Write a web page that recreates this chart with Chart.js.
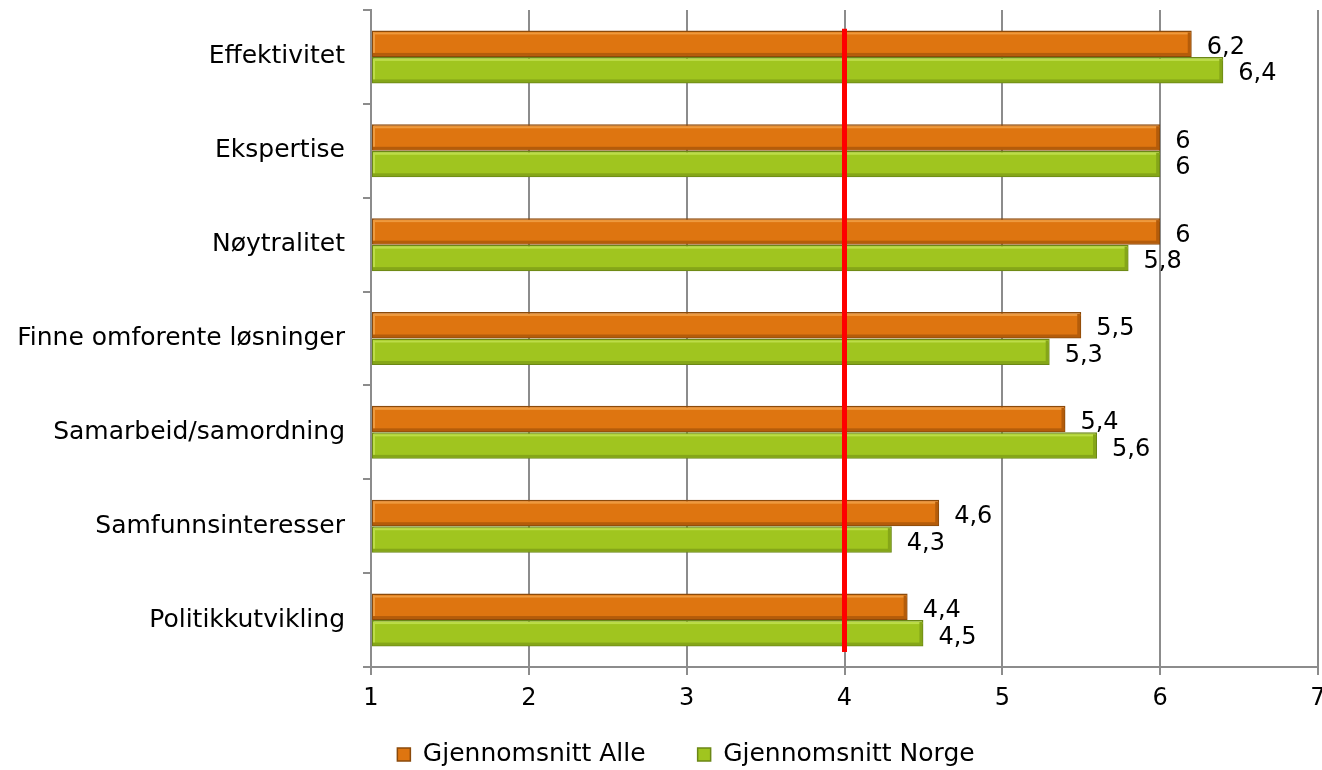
<!DOCTYPE html>
<html>
<head>
<meta charset="utf-8">
<script src="https://cdn.jsdelivr.net/npm/chart.js@4/dist/chart.umd.min.js"></script>
<style>
  html, body { margin: 0; padding: 0; background: #ffffff; }
  #wrap { width: 1322px; height: 770px; }
</style>
</head>
<body>
<div id="wrap"><canvas id="chart" width="1322" height="770"></canvas></div>
<script>
// Categories (top to bottom) and the two series of averages
const categories = [
  'Effektivitet',
  'Ekspertise',
  'Nøytralitet',
  'Finne omforente løsninger',
  'Samarbeid/samordning',
  'Samfunnsinteresser',
  'Politikkutvikling'
];
const seriesNames = ['Gjennomsnitt Alle', 'Gjennomsnitt Norge'];
const avgAlle  = [6.2, 6.0, 6.0, 5.5, 5.4, 4.6, 4.4];
const avgNorge = [6.4, 6.0, 5.8, 5.3, 5.6, 4.3, 4.5];
// Scale 1–7 and the reference level marked by the red line
const xTicks = [1, 2, 3, 4, 5, 6, 7];
const referenceValue = 4;

const FONT = "'DejaVu Sans', sans-serif";
const palette = [
  { fill: '#de7510', border: '#8a4a0b', light: '#ee9a3e', dark: '#b45c0a' },
  { fill: '#a0c51f', border: '#6b8716', light: '#bcdc48', dark: '#85a618' }
];

function fmt(v) {
  return String(v).replace('.', ',');
}

// Bevel highlights on each bar to give the raised look
const bevelPlugin = {
  id: 'bevel',
  afterDatasetsDraw(chart) {
    const ctx = chart.ctx;
    const area = chart.chartArea;
    chart.data.datasets.forEach((ds, di) => {
      const meta = chart.getDatasetMeta(di);
      const c = palette[di];
      meta.data.forEach(bar => {
        const top = bar.y - bar.height / 2;
        const bottom = bar.y + bar.height / 2;
        const left = Math.max(area.left, Math.min(bar.base, bar.x));
        const right = Math.max(bar.base, bar.x);
        ctx.save();
        ctx.fillStyle = c.light;
        ctx.fillRect(left + 1, top + 2, right - left - 2, 2);
        ctx.fillRect(left + 1, top + 2, 2, bottom - top - 4);
        ctx.fillStyle = c.dark;
        ctx.fillRect(left + 1, bottom - 4, right - left - 2, 3);
        ctx.fillRect(right - 4, top + 2, 3, bottom - top - 4);
        ctx.restore();
      });
    });
  }
};

// Value labels to the right of each bar end
const valueLabelPlugin = {
  id: 'valueLabels',
  afterDatasetsDraw(chart) {
    const ctx = chart.ctx;
    ctx.save();
    ctx.font = '24px ' + FONT;
    ctx.fillStyle = '#000000';
    ctx.textAlign = 'left';
    ctx.textBaseline = 'middle';
    chart.data.datasets.forEach((ds, di) => {
      const meta = chart.getDatasetMeta(di);
      meta.data.forEach((bar, i) => {
        ctx.fillText(fmt(ds.data[i]), bar.x + 15, bar.y + 4);
      });
    });
    ctx.restore();
  }
};

// Red reference line at the chosen scale value
const referenceLinePlugin = {
  id: 'referenceLine',
  afterDatasetsDraw(chart) {
    const xs = chart.scales.x;
    const ys = chart.scales.y;
    const band = ys.getPixelForValue(1) - ys.getPixelForValue(0);
    const x = xs.getPixelForValue(referenceValue);
    const y0 = ys.getPixelForValue(0) - 0.3 * band;
    const y1 = ys.getPixelForValue(categories.length - 1) + 0.34 * band;
    const ctx = chart.ctx;
    ctx.save();
    ctx.strokeStyle = '#ff0000';
    ctx.lineWidth = 5;
    ctx.beginPath();
    ctx.moveTo(x, y0);
    ctx.lineTo(x, y1);
    ctx.stroke();
    ctx.restore();
  }
};

// Keep the bottom legend compact and place it under the axis labels
const LEGEND_HEIGHT = 46;
const LEGEND_FONT = 25;
const legendPlacePlugin = {
  id: 'legendPlace',
  beforeLayout(chart) {
    const lg = chart.legend;
    if (lg && !lg._compactFit) {
      const fit = lg.fit;
      lg.fit = function () {
        fit.call(this);
        this.height = LEGEND_HEIGHT;
      };
      lg._compactFit = true;
    }
  },
  afterLayout(chart) {
    const lg = chart.legend;
    if (!lg) return;
    const pad = lg.options.labels.padding;
    const itemH = Math.max(lg.options.labels.boxHeight, LEGEND_FONT * 1.2);
    const textCenter = 757;
    const dx = 27;
    lg.top = textCenter - itemH / 2 - pad;
    lg.bottom = chart.height;
    lg.height = lg.bottom - lg.top;
    lg.left += dx;
    lg.right += dx;
  }
};

new Chart(document.getElementById('chart'), {
  type: 'bar',
  data: {
    labels: categories,
    datasets: [
      {
        label: seriesNames[0],
        data: avgAlle,
        base: xTicks[0],
        backgroundColor: palette[0].fill,
        borderColor: palette[0].border,
        borderWidth: 1.5,
        borderSkipped: false,
        categoryPercentage: 0.565,
        barPercentage: 1.0
      },
      {
        label: seriesNames[1],
        data: avgNorge,
        base: xTicks[0],
        backgroundColor: palette[1].fill,
        borderColor: palette[1].border,
        borderWidth: 1.5,
        borderSkipped: false,
        categoryPercentage: 0.565,
        barPercentage: 1.0
      }
    ]
  },
  options: {
    indexAxis: 'y',
    responsive: false,
    animation: false,
    devicePixelRatio: 1,
    layout: { padding: { top: 10, right: 4, left: 0, bottom: 0 } },
    plugins: {
      legend: {
        position: 'bottom',
        labels: {
          font: { family: FONT, size: LEGEND_FONT },
          color: '#000000',
          boxWidth: 13,
          boxHeight: 13,
          padding: 52,
          generateLabels(chart) {
            return chart.data.datasets.map((ds, i) => ({
              text: ds.label,
              fillStyle: palette[i].fill,
              strokeStyle: palette[i].border,
              lineWidth: 1.5,
              hidden: false,
              datasetIndex: i,
              fontColor: '#000000'
            }));
          }
        }
      },
      tooltip: { enabled: false },
      title: { display: false }
    },
    scales: {
      x: {
        type: 'linear',
        min: xTicks[0],
        max: xTicks[xTicks.length - 1],
        afterBuildTicks(scale) {
          scale.ticks = xTicks.map(v => ({ value: v }));
        },
        afterFit(scale) {
          scale.paddingLeft = 0;
          scale.paddingRight = 0;
          scale.height = 770 - LEGEND_HEIGHT - 667;
        },
        ticks: {
          font: { family: FONT, size: 24 },
          color: '#000000',
          padding: 9,
          maxRotation: 0
        },
        grid: {
          color: '#8c8c8c',
          lineWidth: 2,
          tickLength: 8,
          drawTicks: true
        },
        border: { color: '#8c8c8c', width: 2 }
      },
      y: {
        type: 'category',
        offset: true,
        afterFit(scale) {
          scale.width = 371;
          scale.paddingTop = 0;
          scale.paddingBottom = 0;
        },
        ticks: {
          font: { family: FONT, size: 25 },
          color: '#000000',
          padding: 18
        },
        grid: {
          offset: true,
          drawOnChartArea: false,
          drawTicks: true,
          tickLength: 8,
          color: '#8c8c8c',
          lineWidth: 2
        },
        border: { color: '#8c8c8c', width: 2 }
      }
    }
  },
  plugins: [bevelPlugin, referenceLinePlugin, valueLabelPlugin, legendPlacePlugin]
});
</script>
</body>
</html>
